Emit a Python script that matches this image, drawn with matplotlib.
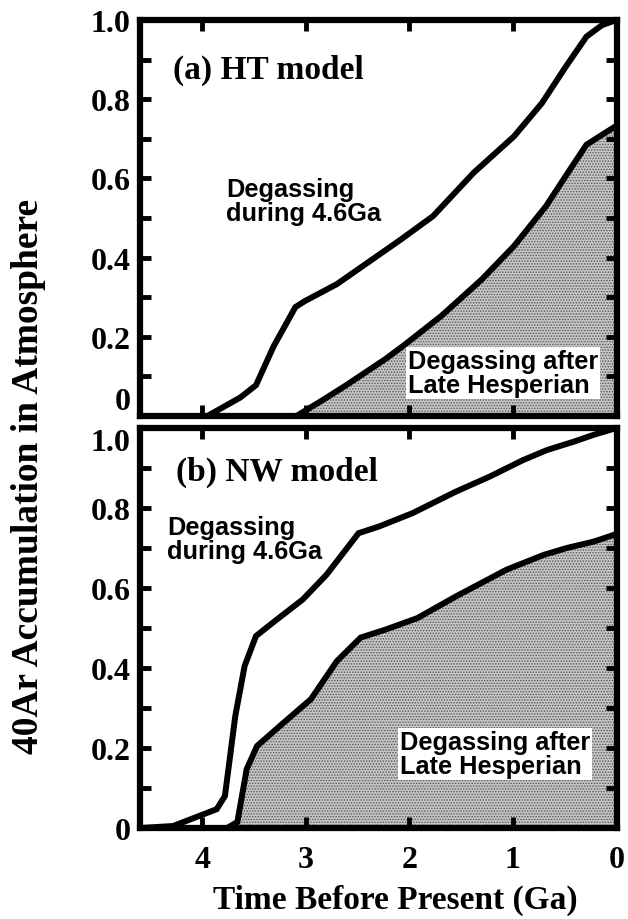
import matplotlib
matplotlib.use("Agg")
import matplotlib.pyplot as plt
from matplotlib.ticker import MultipleLocator, FixedLocator, FixedFormatter

# ---------------- data ----------------
t_ht_total = [4.6, 3.95, 3.63, 3.48, 3.31, 3.10, 3.01, 2.70, 2.08, 1.77, 1.38, 0.99, 0.72, 0.49, 0.29, 0.14, 0.0]
ar_ht_total = [0, 0, 0.047, 0.078, 0.176, 0.275, 0.29, 0.333, 0.446, 0.505, 0.614, 0.706, 0.79, 0.882, 0.958, 0.987, 1.0]

t_ht_late = [4.6, 3.09, 2.85, 2.62, 2.23, 2.04, 1.69, 1.30, 0.99, 0.68, 0.45, 0.29, 0.14, 0.0]
ar_ht_late = [0, 0, 0.038, 0.076, 0.144, 0.181, 0.253, 0.345, 0.429, 0.53, 0.622, 0.685, 0.71, 0.733]

t_nw_total = [4.6, 4.28, 3.98, 3.86, 3.78, 3.68, 3.59, 3.48, 3.28, 3.03, 2.80, 2.49, 2.29, 1.97, 1.55, 1.22, 0.90, 0.67, 0.41, 0.22, 0.0]
ar_nw_total = [0, 0.005, 0.035, 0.047, 0.08, 0.28, 0.405, 0.48, 0.521, 0.571, 0.633, 0.737, 0.754, 0.787, 0.841, 0.879, 0.92, 0.945, 0.966, 0.983, 1.0]

t_nw_late = [4.6, 3.76, 3.66, 3.57, 3.47, 3.21, 2.95, 2.70, 2.47, 2.23, 1.92, 1.55, 1.06, 0.70, 0.48, 0.22, 0.0]
ar_nw_late = [0, 0, 0.015, 0.147, 0.205, 0.264, 0.322, 0.417, 0.476, 0.496, 0.525, 0.579, 0.646, 0.683, 0.70, 0.716, 0.735]

x_ticks = [4, 3, 2, 1, 0]
x_ticklabels = ["4", "3", "2", "1", "0"]
y_ticks = [0, 0.2, 0.4, 0.6, 0.8, 1.0]
y_ticklabels = ["0", "0.2", "0.4", "0.6", "0.8", "1.0"]

panel_titles = ["(a) HT model", "(b) NW model"]
label_total = "Degassing\nduring 4.6Ga"
label_late = "Degassing after\nLate Hesperian"
xlabel = "Time Before Present (Ga)"
ylabel = "40Ar Accumulation in Atmosphere"

# ---------------- style ----------------
SERIF = ["Liberation Serif", "DejaVu Serif"]
SANS = ["Liberation Sans", "DejaVu Sans"]
LW = 4.3
SPINE_LW = 4.5

plt.rcParams["hatch.linewidth"] = 0.7

fig = plt.figure(figsize=(6.28, 9.2), dpi=100)
ax_a = fig.add_axes([0.2229, 0.5467, 0.7588, 0.4305])
ax_b = fig.add_axes([0.2229, 0.0989, 0.7588, 0.4348])


def style_axis(ax, show_xlabels):
    ax.set_xlim(4.6, 0)
    ax.set_ylim(0, 1.0)
    for s in ax.spines.values():
        s.set_linewidth(SPINE_LW)
    ax.xaxis.set_major_locator(FixedLocator(x_ticks))
    ax.xaxis.set_major_formatter(FixedFormatter(x_ticklabels))
    ax.yaxis.set_major_locator(FixedLocator(y_ticks))
    ax.yaxis.set_major_formatter(FixedFormatter(y_ticklabels))
    ax.yaxis.set_minor_locator(MultipleLocator(0.1))
    ax.tick_params(axis="both", which="both", direction="in", length=8, width=3.5,
                   top=True, right=True, bottom=True, left=True)
    ax.tick_params(axis="y", which="major", pad=7)
    ax.tick_params(axis="x", which="major", pad=12, labelbottom=show_xlabels)
    for lab in ax.get_yticklabels() + ax.get_xticklabels():
        lab.set_fontfamily(SERIF)
        lab.set_fontweight("bold")
        lab.set_fontsize(23)


def draw_panel(ax, t_tot, a_tot, t_late, a_late):
    ax.fill_between(t_late, a_late, 0, facecolor="#c6c6c6", edgecolor="#555555",
                    hatch="......", linewidth=0, zorder=1)
    ax.plot(t_tot, a_tot, color="black", lw=LW, solid_joinstyle="miter", zorder=3)
    ax.plot(t_late, a_late, color="black", lw=LW, solid_joinstyle="miter", zorder=3)


draw_panel(ax_a, t_ht_total, ar_ht_total, t_ht_late, ar_ht_late)
draw_panel(ax_b, t_nw_total, ar_nw_total, t_nw_late, ar_nw_late)
style_axis(ax_a, False)
style_axis(ax_b, True)

# tick label nudges
ax_a.get_yticklabels()[0].set_verticalalignment("bottom")
ax_b.get_yticklabels()[-1].set_verticalalignment("top")

# panel titles
ax_a.text(0.069, 0.876, panel_titles[0], transform=ax_a.transAxes, ha="left", va="center",
          family=SERIF, weight="bold", fontsize=24)
ax_b.text(0.0755, 0.8925, panel_titles[1], transform=ax_b.transAxes, ha="left", va="center",
          family=SERIF, weight="bold", fontsize=24)

# sans annotations
txt_kw = dict(ha="left", va="center", family=SANS, weight="bold", fontsize=18.3, linespacing=1.0)
box = dict(facecolor="white", edgecolor="none", pad=1.5)
ax_a.text(0.180, 0.543, label_total, transform=ax_a.transAxes, **txt_kw)
ax_a.text(0.562, 0.109, label_late, transform=ax_a.transAxes, bbox=box, zorder=4, **txt_kw)
ax_b.text(0.057, 0.7225, label_total, transform=ax_b.transAxes, **txt_kw)
ax_b.text(0.546, 0.185, label_late, transform=ax_b.transAxes, bbox=box, zorder=4, **txt_kw)

# axis labels
fig.text(0.629, 0.021, xlabel, ha="center", va="center", family=SERIF, weight="bold", fontsize=24)
fig.text(0.045, 0.4826, ylabel, ha="center", va="center", rotation=90,
         family=SERIF, weight="bold", fontsize=27)

fig.savefig("out.png", dpi=100)
